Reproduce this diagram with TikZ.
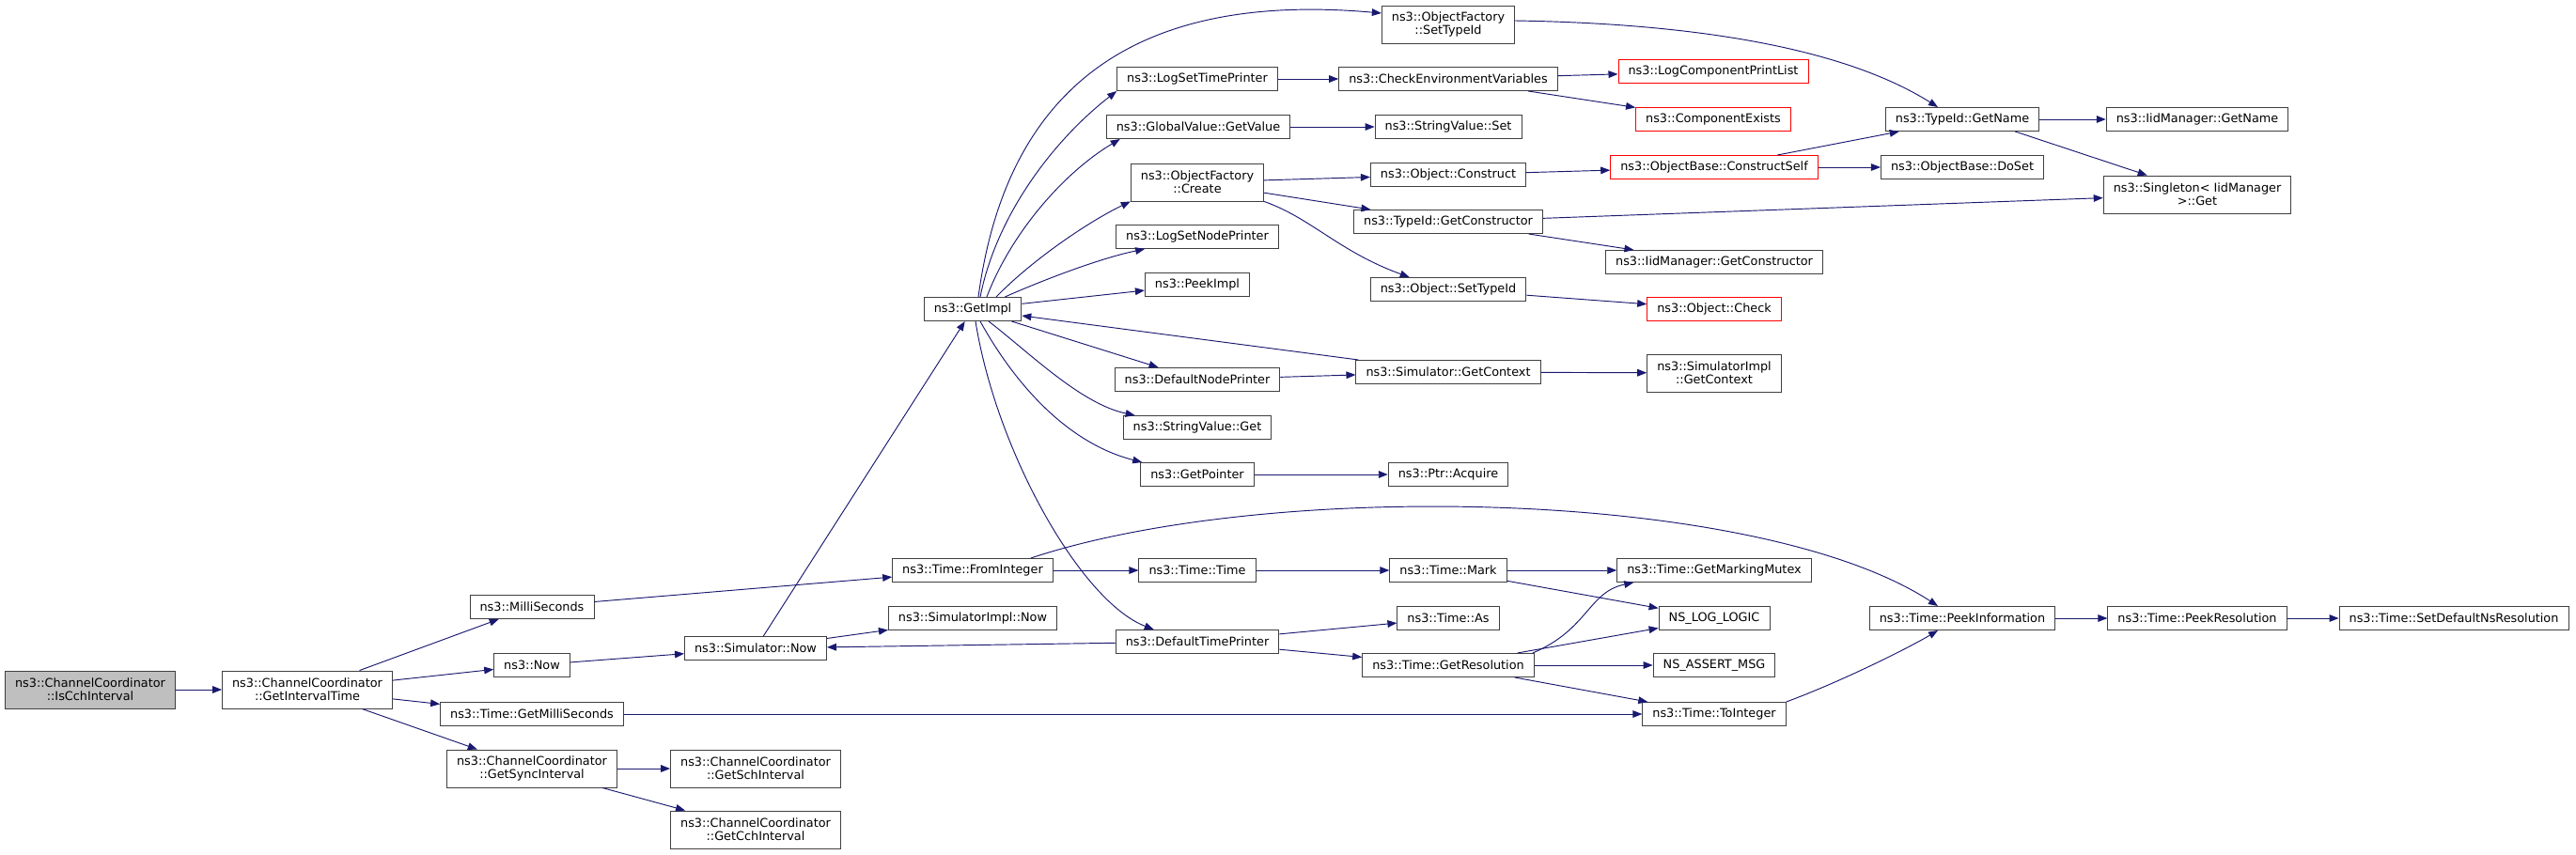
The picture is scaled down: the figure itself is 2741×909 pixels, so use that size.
\documentclass[tikz,border=0pt]{standalone}
\usepackage{fontspec}
\setmainfont{DejaVu Sans}
\usetikzlibrary{arrows.meta,calc}
\definecolor{bleunuit}{HTML}{191970}
\definecolor{bordgris}{HTML}{404040}
\definecolor{fondgris}{HTML}{BFBFBF}

\begin{document}
\begin{tikzpicture}[x=0.85pt,y=-0.85pt,
    fn/.style={draw=bordgris,line width=0.8pt,fill=white,inner xsep=9pt,inner ysep=2pt,
      minimum height=21.3pt,align=center,font=\fontsize{10.9}{11.8}\selectfont},
    fn2/.style={fn,minimum height=34pt},
    trunc/.style={draw=red},
    root/.style={fill=fondgris},
    call/.style={draw=bleunuit,line width=0.8pt,-{Triangle[length=8.5pt,width=6.5pt]}}]
    \useasboundingbox (0,0) rectangle (2741,909);

    % Les noeuds, colonne par colonne
    \node[fn2,root] (icch) at (96,734) {ns3::ChannelCoordinator\\::IsCchInterval};
    \node[fn2] (git) at (327,734) {ns3::ChannelCoordinator\\::GetIntervalTime};

    \node[fn] (ms) at (566,646) {ns3::MilliSeconds};
    \node[fn] (now) at (566,708) {ns3::Now};
    \node[fn] (tgms) at (566,760) {ns3::Time::GetMilliSeconds};
    \node[fn2] (gsync) at (566,818) {ns3::ChannelCoordinator\\::GetSyncInterval};

    \node[fn] (snow) at (804,690) {ns3::Simulator::Now};
    \node[fn2] (gsch) at (804,818) {ns3::ChannelCoordinator\\::GetSchInterval};
    \node[fn2] (gcch) at (804,883) {ns3::ChannelCoordinator\\::GetCchInterval};

    \node[fn] (gimpl) at (1035,329) {ns3::GetImpl};
    \node[fn] (fromint) at (1035,607) {ns3::Time::FromInteger};
    \node[fn] (sinow) at (1035,658) {ns3::SimulatorImpl::Now};

    \node[fn] (lstp) at (1274,84) {ns3::LogSetTimePrinter};
    \node[fn] (gval) at (1275,135) {ns3::GlobalValue::GetValue};
    \node[fn2] (ofcreate) at (1274,194) {ns3::ObjectFactory\\::Create};
    \node[fn] (lsnp) at (1274,252) {ns3::LogSetNodePrinter};
    \node[fn] (peek) at (1274,303) {ns3::PeekImpl};
    \node[fn] (dnp) at (1274,404) {ns3::DefaultNodePrinter};
    \node[fn] (svget) at (1274,455) {ns3::StringValue::Get};
    \node[fn] (gptr) at (1274,505) {ns3::GetPointer};
    \node[fn] (ttime) at (1274,607) {ns3::Time::Time};
    \node[fn] (dtp) at (1274,683) {ns3::DefaultTimePrinter};

    \node[fn2] (ofstid) at (1541,26) {ns3::ObjectFactory\\::SetTypeId};
    \node[fn] (cev) at (1541,84) {ns3::CheckEnvironmentVariables};
    \node[fn] (svset) at (1541,135) {ns3::StringValue::Set};
    \node[fn] (oconst) at (1541,186) {ns3::Object::Construct};
    \node[fn] (tgcons) at (1541,236) {ns3::TypeId::GetConstructor};
    \node[fn] (ostid) at (1541,308) {ns3::Object::SetTypeId};
    \node[fn] (sgctx) at (1541,396) {ns3::Simulator::GetContext};
    \node[fn] (acq) at (1541,505) {ns3::Ptr::Acquire};
    \node[fn] (mark) at (1541,607) {ns3::Time::Mark};
    \node[fn] (tas) at (1541,658) {ns3::Time::As};
    \node[fn] (gres) at (1541,708) {ns3::Time::GetResolution};

    \node[fn,trunc] (lcpl) at (1823,76) {ns3::LogComponentPrintList};
    \node[fn,trunc] (cex) at (1823,127) {ns3::ComponentExists};
    \node[fn,trunc] (cself) at (1824,178) {ns3::ObjectBase::ConstructSelf};
    \node[fn] (igcons) at (1824,279) {ns3::IidManager::GetConstructor};
    \node[fn,trunc] (ochk) at (1824,329) {ns3::Object::Check};
    \node[fn2] (sigctx) at (1824,397) {ns3::SimulatorImpl\\::GetContext};
    \node[fn] (gmm) at (1824,607) {ns3::Time::GetMarkingMutex};
    \node[fn] (nll) at (1824,658) {NS\_LOG\_LOGIC};
    \node[fn] (nam) at (1824,708) {NS\_ASSERT\_MSG};
    \node[fn] (toint) at (1824,760) {ns3::Time::ToInteger};

    \node[fn] (tgname) at (2088,127) {ns3::TypeId::GetName};
    \node[fn] (doset) at (2088,178) {ns3::ObjectBase::DoSet};
    \node[fn] (peekinf) at (2088,658) {ns3::Time::PeekInformation};

    \node[fn] (igname) at (2338,127) {ns3::IidManager::GetName};
    \node[fn2] (sget) at (2338,207) {ns3::Singleton< IidManager\\>::Get};
    \node[fn] (peekres) at (2338,658) {ns3::Time::PeekResolution};

    \node[fn] (setdef) at (2611,658) {ns3::Time::SetDefaultNsResolution};

    % Appels directs
    \draw[call] (icch) -- (git);
    \draw[call] (git) -- (ms);
    \draw[call] (git) -- (now);
    \draw[call] (git) -- (tgms);
    \draw[call] (git) -- (gsync);
    \draw[call] (gsync) -- (gsch);
    \draw[call] (gsync) -- (gcch);
    \draw[call] (ms) -- (fromint);
    \draw[call] (now) -- (snow);
    \draw[call] (tgms) -- (toint);
    \draw[call] (snow) -- (gimpl);
    \draw[call] (snow) -- (sinow);
    \draw[call] (dtp) -- (snow);
    \draw[call] (fromint) -- (ttime);
    \draw[call] (ttime) -- (mark);
    \draw[call] (mark) -- (gmm);
    \draw[call] (mark) -- (nll);
    \draw[call] (dtp) -- (tas);
    \draw[call] (dtp) -- (gres);
    \draw[call] (gres) -- (nll);
    \draw[call] (gres) -- (nam);
    \draw[call] (gres) -- (toint);
    \draw[call] (peekinf) -- (peekres);
    \draw[call] (peekres) -- (setdef);
    \draw[call] (gimpl) -- (peek);
    \draw[call] (gimpl) -- (dnp);
    \draw[call] ($(sgctx.north west)+(3,0)$) -- ($(gimpl.east)+(0,7)$);
    \draw[call] (dnp) -- (sgctx);
    \draw[call] (sgctx) -- (sigctx);
    \draw[call] (gptr) -- (acq);
    \draw[call] (lstp) -- (cev);
    \draw[call] (cev) -- (lcpl);
    \draw[call] (cev) -- (cex);
    \draw[call] (gval) -- (svset);
    \draw[call] (ofcreate) -- (oconst);
    \draw[call] (ofcreate) -- (tgcons);
    \draw[call] (oconst) -- (cself);
    \draw[call] (cself) -- (tgname);
    \draw[call] (cself) -- (doset);
    \draw[call] (tgname) -- (igname);
    \draw[call] ($(tgname.south east)+(-26,0)$) -- ($(sget.north west)+(47,0)$);
    \draw[call] (tgcons) -- (sget);
    \draw[call] (tgcons) -- (igcons);
    \draw[call] (ostid) -- (ochk);

    % Appels courbes
    \draw[call] ($(gimpl.north)+(6,0)$) .. controls (1070,100) and (1200,-10) .. ($(ofstid.west)+(0,-12)$);
    \draw[call] ($(gimpl.north)+(8,0)$) .. controls (1060,230) and (1120,150) .. (lstp.south west);
    \draw[call] ($(gimpl.north)+(15,0)$) .. controls (1075,250) and (1130,185) .. ($(gval.south west)+(15,0)$);
    \draw[call] ($(gimpl.north)+(25,0)$) .. controls (1100,275) and (1160,235) .. (ofcreate.south west);
    \draw[call] ($(gimpl.north east)+(-18,0)$) .. controls (1110,298) and (1170,275) .. ($(lsnp.south west)+(31,0)$);
    \draw[call] ($(gimpl.south)+(17,0)$) .. controls (1095,375) and (1150,430) .. ($(svget.north west)+(13,0)$);
    \draw[call] ($(gimpl.south)+(8,0)$) .. controls (1075,400) and (1130,470) .. ($(gptr.north west)+(2,0)$);
    \draw[call] ($(gimpl.south)+(3,0)$) .. controls (1060,480) and (1150,640) .. ($(dtp.north west)+(41,0)$);
    \draw[call] ($(fromint.north east)+(-24,0)$) .. controls (1350,510) and (1870,520) .. ($(peekinf.north)+(-26,0)$);
    \draw[call] (toint.north east) .. controls (1960,725) and (2030,690) .. ($(peekinf.south)+(-26,0)$);
    \draw[call] ($(gres.north east)+(-2,0)$) .. controls (1690,670) and (1690,630) .. ($(gmm.south west)+(18,0)$);
    \draw[call] (ofcreate.south east) .. controls (1395,232) and (1425,268) .. ($(ostid.north west)+(42,0)$);
    \draw[call] ($(ofstid.east)+(0,-4)$) .. controls (1800,25) and (1960,50) .. ($(tgname.north)+(-26,0)$);
\end{tikzpicture}
\end{document}
